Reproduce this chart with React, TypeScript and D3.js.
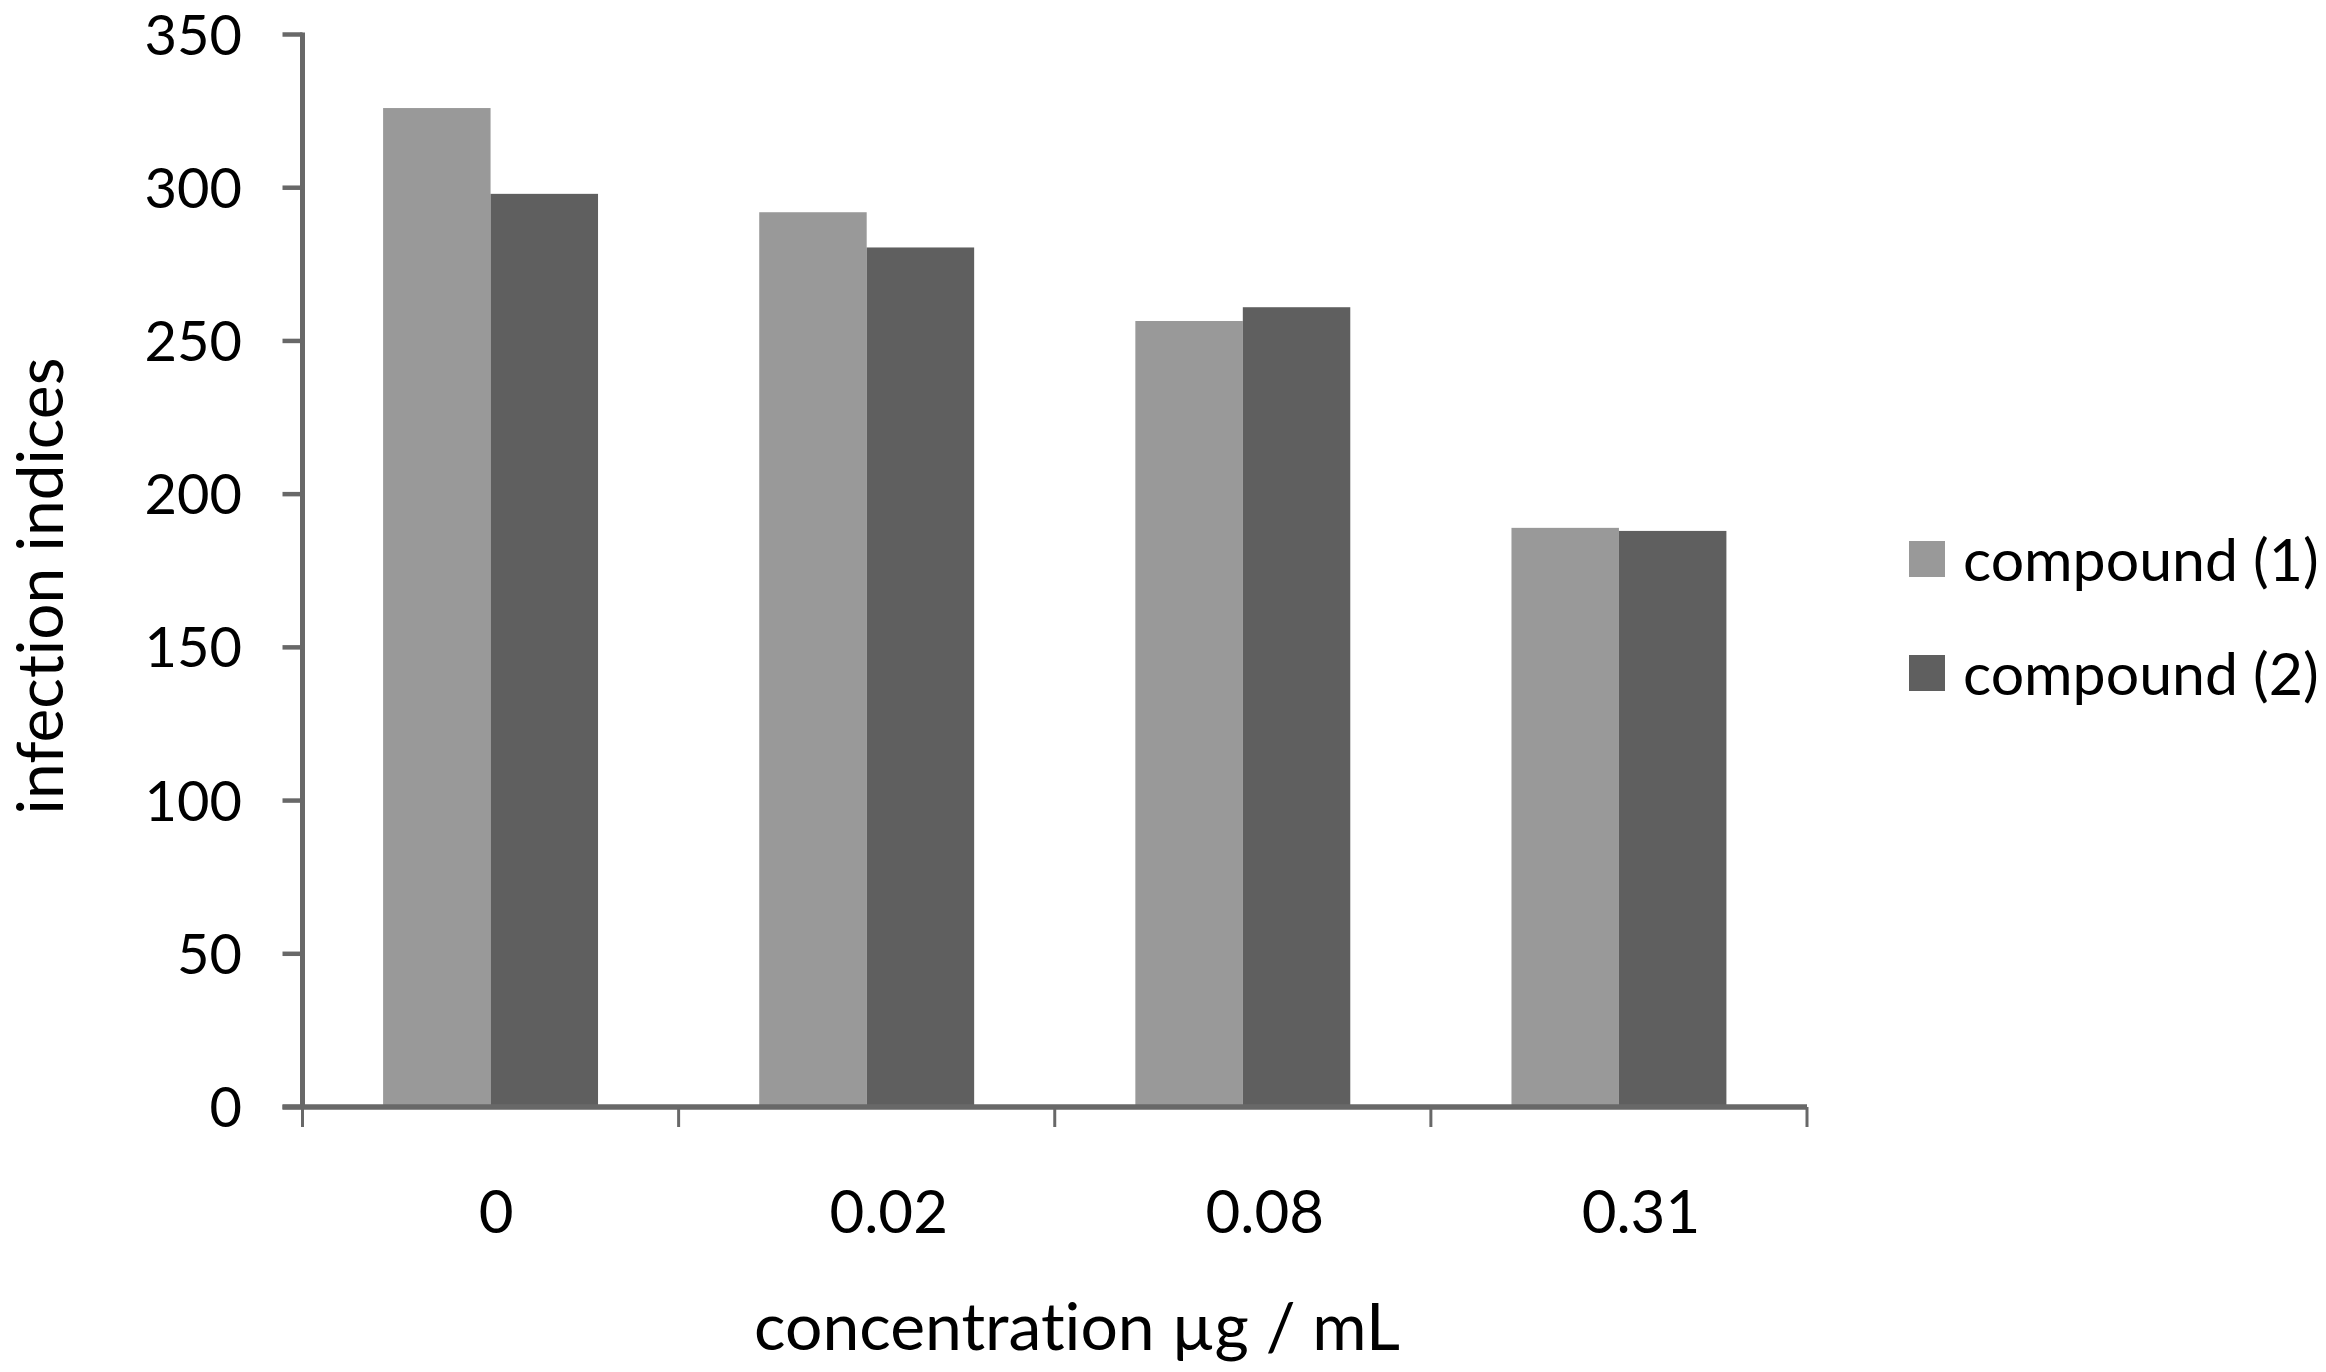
import React from "react";
import * as d3 from "d3";

const categories = ["0", "0.02", "0.08", "0.31"];
const compound1 = [326, 292, 256.5, 189];
const compound2 = [298, 280.5, 261, 188];
const seriesNames = ["compound (1)", "compound (2)"];
const seriesColors = ["#999999", "#5f5f5f"];
const yTicks = [0, 50, 100, 150, 200, 250, 300, 350];
const xTitle = "concentration µg / mL";
const yTitle = "infection indices";

const W = 2326;
const H = 1372;
const FONT = "Lato, 'Noto Sans', sans-serif";
const AXIS = "#686868";
const TEXT_STYLE: React.CSSProperties = { fontVariantLigatures: "none", fontFeatureSettings: "'liga' 0, 'clig' 0" };

export default function App() {
  const left = 302.5;
  const right = 1807;
  const top = 34.5;
  const bottom = 1107;

  const y = d3.scaleLinear().domain([0, 350]).range([bottom, top]);
  const x = d3.scaleBand<string>().domain(categories).range([left, right]).paddingInner(0).paddingOuter(0);
  const inner = d3
    .scaleBand<string>()
    .domain(seriesNames)
    .range([0, x.bandwidth()])
    .paddingInner(0)
    .paddingOuter(0.75);

  const series = [compound1, compound2];
  const xTickPos = [...categories.map((c) => x(c) as number), right];

  return (
    <svg
      width={W}
      height={H}
      viewBox={`0 0 ${W} ${H}`}
      style={{ position: "absolute", left: 0, top: 0, background: "#fff" }}
    >
      <rect x={0} y={0} width={W} height={H} fill="#fff" />
      {/* bars */}
      {series.map((vals, si) =>
        vals.map((v, ci) => (
          <rect
            key={`b-${si}-${ci}`}
            x={(x(categories[ci]) as number) + (inner(seriesNames[si]) as number)}
            y={y(v)}
            width={inner.bandwidth()}
            height={y(0) - y(v)}
            fill={seriesColors[si]}
          />
        ))
      )}
      {/* y axis */}
      <line x1={left} x2={left} y1={top - 2} y2={bottom} stroke={AXIS} strokeWidth={5} />
      {yTicks.map((t) => (
        <g key={`yt-${t}`}>
          <line x1={left - 20} x2={left} y1={y(t)} y2={y(t)} stroke={AXIS} strokeWidth={4.5} />
          <text
            x={242}
            y={y(t) + 20}
            textAnchor="end"
            fontFamily={FONT}
            fontSize={56}
            fill="#000"
            style={TEXT_STYLE}
          >
            {t}
          </text>
        </g>
      ))}
      {/* x axis */}
      {xTickPos.map((p, i) => (
        <line key={`xt-${i}`} x1={p} x2={p} y1={bottom} y2={bottom + 20} stroke={AXIS} strokeWidth={3} />
      ))}
      <line x1={left - 20} x2={right} y1={bottom} y2={bottom} stroke={AXIS} strokeWidth={5.5} />
      {categories.map((c) => (
        <text
          key={`xl-${c}`}
          x={(x(c) as number) + x.bandwidth() / 2}
          dx={c.length * 5.5}
          y={1233}
          textAnchor="middle"
          fontFamily={FONT}
          fontSize={60}
          fill="#000"
          style={TEXT_STYLE}
        >
          {c}
        </text>
      ))}
      {/* axis titles */}
      <text x={1077} y={1350} textAnchor="middle" fontFamily={FONT} fontSize={66} fill="#000" style={TEXT_STYLE}>
        {xTitle}
      </text>
      <text
        transform={`translate(63,586) rotate(-90)`}
        textAnchor="middle"
        fontFamily={FONT}
        fontSize={64}
        fill="#000"
        style={TEXT_STYLE}
      >
        {yTitle}
      </text>
      {/* legend */}
      {seriesNames.map((s, i) => (
        <g key={`lg-${i}`} transform={`translate(1909, ${541 + i * 114})`}>
          <rect x={0} y={0} width={36} height={36} fill={seriesColors[i]} />
          <text x={54} y={40} fontFamily={FONT} fontSize={59} fill="#000" style={TEXT_STYLE}>
            {s}
          </text>
        </g>
      ))}
    </svg>
  );
}
